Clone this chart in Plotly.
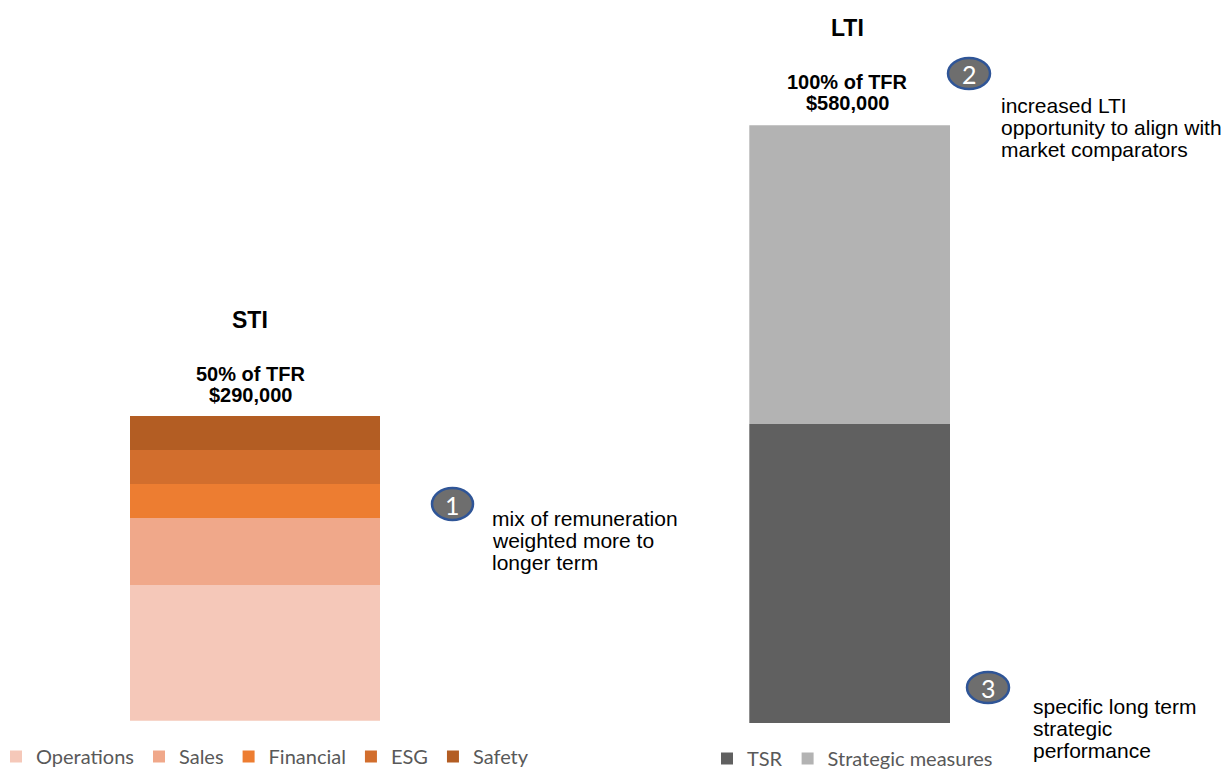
import plotly.graph_objects as go

W, H = 1229, 770

# ---------------- data ----------------
sti_categories = ["Operations", "Sales", "Financial", "ESG", "Safety"]
sti_values = [128889, 64444, 32222, 32222, 32223]
sti_colors = ["#F5C8B9", "#F0A88A", "#ED7D31", "#D26E2D", "#B35D23"]

lti_categories = ["TSR", "Strategic measures"]
lti_values = [290000, 290000]
lti_colors = ["#606060", "#B3B3B3"]

bar_names = ["STI", "LTI"]
bar_pct = ["50% of TFR", "100% of TFR"]

note_numbers = ["1", "2", "3"]
note_texts = [
    ["mix of remuneration", "weighted more to", "longer term"],
    ["increased LTI", "opportunity to align with", "market comparators"],
    ["specific long term", "strategic", "performance"],
]


def px(x):
    return x / W


def py(y):
    return 1 - y / H


fig = go.Figure()

for name, val, col in zip(sti_categories, sti_values, sti_colors):
    fig.add_trace(go.Bar(
        x=[bar_names[0]], y=[val], name=name, width=1,
        marker=dict(color=col, line=dict(width=0)),
        xaxis="x", yaxis="y", legend="legend",
        hoverinfo="name+y",
    ))

for name, val, col in zip(lti_categories, lti_values, lti_colors):
    fig.add_trace(go.Bar(
        x=[bar_names[1]], y=[val], name=name, width=1,
        marker=dict(color=col, line=dict(width=0)),
        xaxis="x2", yaxis="y2", legend="legend2",
        hoverinfo="name+y",
    ))

sti_total = sum(sti_values)
lti_total = sum(lti_values)

hidden = dict(visible=False, showgrid=False, zeroline=False, fixedrange=True)

annotations = []
title_font = dict(family="Liberation Sans, Arial", color="#000000")

# bar headings
heads = [
    (250, 319.7, 374.0, 394.5, bar_names[0], bar_pct[0], sti_total),
    (847.5, 28.0, 82.3, 103.0, bar_names[1], bar_pct[1], lti_total),
]
for cx, yt, y1, y2, nm, pct, tot in heads:
    annotations.append(dict(x=px(cx), y=py(yt), xref="paper", yref="paper",
                            text=f"<b>{nm}</b>", showarrow=False,
                            xanchor="center", yanchor="middle",
                            font=dict(size=23, **title_font)))
    annotations.append(dict(x=px(cx), y=py(y1), xref="paper", yref="paper",
                            text=f"<b>{pct}</b>", showarrow=False,
                            xanchor="center", yanchor="middle",
                            font=dict(size=20, **title_font)))
    annotations.append(dict(x=px(cx), y=py(y2), xref="paper", yref="paper",
                            text=f"<b>${tot:,}</b>", showarrow=False,
                            xanchor="center", yanchor="middle",
                            font=dict(size=20, **title_font)))

# numbered notes
circle_boxes = [(432, 488, 473, 520), (948, 58, 990, 89), (967, 672, 1009, 703)]
text_x = [490, 999, 1031]
text_y = [[518.7, 540.4, 562.0], [106.0, 127.7, 149.4], [706.7, 728.4, 750.1]]

shapes = []
for num, (x0, y0, x1, y1), tx, tys, lines in zip(note_numbers, circle_boxes, text_x, text_y, note_texts):
    shapes.append(dict(type="circle", xref="paper", yref="paper",
                       x0=px(x0), x1=px(x1), y0=py(y1), y1=py(y0),
                       fillcolor="#6E6E6E", line=dict(color="#2F5597", width=2.5),
                       layer="above"))
    annotations.append(dict(x=px((x0 + x1) / 2), y=py((y0 + y1) / 2 + 0.5), xref="paper", yref="paper",
                            text=num, showarrow=False, xanchor="center", yanchor="middle",
                            font=dict(family="Lato", size=25, color="#FFFFFF")))
    for ln, ty in zip(lines, tys):
        annotations.append(dict(x=px(tx), y=py(ty), xref="paper", yref="paper",
                                text=ln, showarrow=False, xanchor="left", yanchor="middle",
                                font=dict(family="Liberation Sans, Arial", size=21, color="#000000")))

legend_font = dict(family="Lato", size=20, color="#595959")

fig.update_layout(
    width=W, height=H,
    margin=dict(l=0, r=0, t=0, b=0, autoexpand=False),
    paper_bgcolor="#FFFFFF", plot_bgcolor="#FFFFFF",
    barmode="stack",
    bargap=0,
    showlegend=True,
    xaxis=dict(domain=[px(130), px(380)], range=[-0.5, 0.5], **hidden),
    yaxis=dict(domain=[py(720.7), py(416)], range=[0, sti_total], anchor="x", **hidden),
    xaxis2=dict(domain=[px(749.3), px(950.7)], range=[-0.5, 0.5], anchor="y2", **hidden),
    yaxis2=dict(domain=[py(723.3), py(125.3)], range=[0, lti_total], anchor="x2", **hidden),
    legend=dict(orientation="h", x=px(-4), y=py(737), xanchor="left", yanchor="top",
                traceorder="normal", font=legend_font, bgcolor="rgba(0,0,0,0)",
                borderwidth=0, itemclick=False, itemdoubleclick=False),
    legend2=dict(orientation="h", x=px(707), y=py(739), xanchor="left", yanchor="top",
                 traceorder="normal", font=legend_font, bgcolor="rgba(0,0,0,0)",
                 borderwidth=0, itemclick=False, itemdoubleclick=False),
    annotations=annotations,
    shapes=shapes,
    hovermode="closest",
)

fig.write_html("out.html")
